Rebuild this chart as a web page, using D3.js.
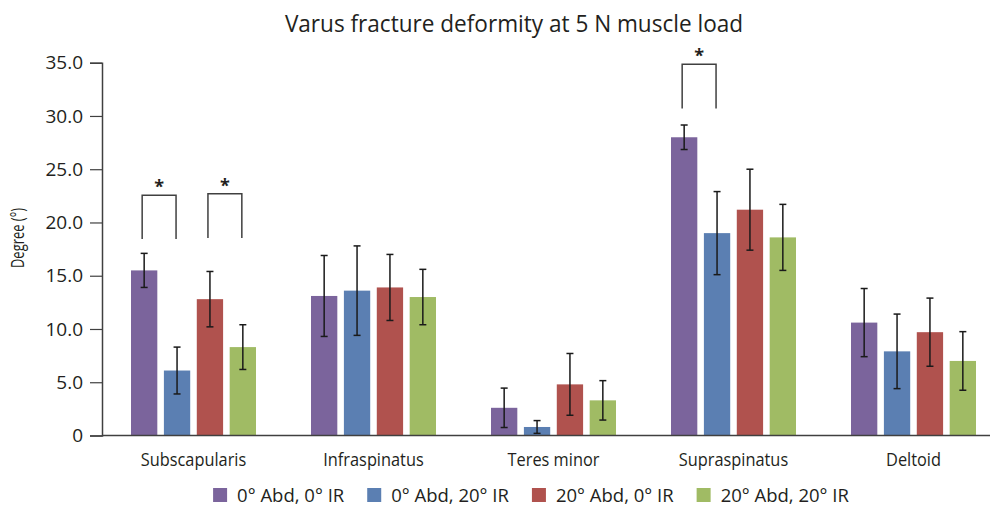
<!DOCTYPE html>
<html><head><meta charset="utf-8">
<script src="https://cdn.jsdelivr.net/npm/d3@7"></script>
<style>body{margin:0;background:#fff}svg{display:block}text{font-family:"Open Sans","Noto Sans",sans-serif;fill:#231f20}</style>
</head><body><svg id="c" width="990" height="508"></svg>
<script>
const categories = ["Subscapularis","Infraspinatus","Teres minor","Supraspinatus","Deltoid"];
const seriesNames = ["0° Abd, 0° IR","0° Abd, 20° IR","20° Abd, 0° IR","20° Abd, 20° IR"];
const seriesColors = ["#7B649C","#5B7FB2","#B0524E","#A0BB64"];
const means = [
  [15.5, 13.1, 2.6, 28.0, 10.6],
  [6.1, 13.6, 0.8, 19.0, 7.9],
  [12.8, 13.9, 4.8, 21.2, 9.7],
  [8.3, 13.0, 3.3, 18.6, 7.0]
];
const errors = [
  [1.6, 3.8, 1.85, 1.15, 3.2],
  [2.2, 4.2, 0.6, 3.9, 3.5],
  [2.6, 3.1, 2.9, 3.8, 3.2],
  [2.1, 2.6, 1.85, 3.1, 2.75]
];
const yTicks = [0,5,10,15,20,25,30,35];
// significance brackets: category, series a, series b, top value, leg bottom value
const brackets = [
  {cat:"Subscapularis", a:0, b:1, top:22.55, bottom:18.45},
  {cat:"Subscapularis", a:2, b:3, top:22.7, bottom:18.55},
  {cat:"Supraspinatus", a:0, b:1, top:34.85, bottom:30.7}
];

const svg = d3.select("#c");
const y = d3.scaleLinear().domain([0,35]).range([435.5,62.7]);
const x0 = d3.scaleBand().domain(categories).range([103.5,1003.5]).paddingInner(0.3056).paddingOuter(0.1528);
const x1 = d3.scaleBand().domain(d3.range(4)).range([0,x0.bandwidth()]).paddingInner(0.2).paddingOuter(0);

function condense(sel, f){
  sel.each(function(){
    const w = this.getComputedTextLength();
    d3.select(this).attr("textLength", w*f).attr("lengthAdjust","spacingAndGlyphs");
  });
}

// title
svg.append("text").attr("x",514).attr("y",32).attr("text-anchor","middle")
  .style("font-size","24px").text("Varus fracture deformity at 5 N muscle load")
  .call(condense, 0.94);

// y axis
const yAxis = d3.axisLeft(y).tickValues(yTicks).tickSize(12).tickPadding(7)
  .tickFormat(d => d===0 ? "0" : d3.format(".1f")(d));
const gy = svg.append("g").attr("transform","translate(102,0)").call(yAxis);
gy.select(".domain").attr("stroke","#404040").attr("stroke-width",1.5);
gy.selectAll(".tick line").attr("stroke","#404040").attr("stroke-width",1.2);
gy.selectAll(".tick text").style("font-size","19px").attr("fill","#231f20")
  .style("font-family",'"Open Sans","Noto Sans",sans-serif');

svg.append("text").attr("transform","translate(24,238) rotate(-90)").attr("text-anchor","middle")
  .style("font-size","17.5px").text("Degree (°)").call(condense, 0.74);

// bars
const flat = [];
categories.forEach((c,ci)=>seriesNames.forEach((s,si)=>flat.push({c,si,v:means[si][ci],e:errors[si][ci]})));
svg.append("g").selectAll("rect").data(flat).join("rect")
  .attr("x",d=>x0(d.c)+x1(d.si)).attr("width",x1.bandwidth())
  .attr("y",d=>y(d.v)).attr("height",d=>y(0)-y(d.v))
  .attr("fill",d=>seriesColors[d.si]);

// x axis line
svg.append("line").attr("x1",102).attr("x2",990).attr("y1",y(0)).attr("y2",y(0))
  .attr("stroke","#404040").attr("stroke-width",1.5);
svg.append("g").selectAll("text").data(categories).join("text")
  .attr("x",d=>x0(d)+x0.bandwidth()/2).attr("y",466).attr("text-anchor","middle")
  .style("font-size","19px").text(d=>d).call(condense, 0.86);

// error bars
const eg = svg.append("g").attr("stroke","#1a1a1a").attr("stroke-width",1.5);
flat.forEach(d=>{
  const cx = x0(d.c)+x1(d.si)+x1.bandwidth()/2;
  const t = y(d.v+d.e), b = y(Math.max(0,d.v-d.e));
  eg.append("line").attr("x1",cx).attr("x2",cx).attr("y1",t).attr("y2",b);
  eg.append("line").attr("x1",cx-3.5).attr("x2",cx+3.5).attr("y1",t).attr("y2",t);
  eg.append("line").attr("x1",cx-3.5).attr("x2",cx+3.5).attr("y1",b).attr("y2",b);
});

// brackets
brackets.forEach(br=>{
  const xa = x0(br.cat)+x1(br.a)+x1.bandwidth()/2 - 2;
  const xb = x0(br.cat)+x1(br.b)+x1.bandwidth()/2 - 1;
  svg.append("path").attr("d",`M${xa},${y(br.bottom)}V${y(br.top)}H${xb}V${y(br.bottom)}`)
    .attr("fill","none").attr("stroke","#404040").attr("stroke-width",1.5);
  svg.append("text").attr("x",(xa+xb)/2).attr("y",y(br.top)-2).attr("text-anchor","middle")
    .style("font-size","18px").style("font-weight","bold").text("*");
});

// legend
const lg = svg.append("g");
const items = seriesNames.map((s,i)=>{
  const g = lg.append("g");
  g.append("rect").attr("x",0).attr("y",-14).attr("width",14).attr("height",14).attr("fill",seriesColors[i]);
  const t = g.append("text").attr("x",24).attr("y",0).style("font-size","18.5px").text(s);
  return {g, w: 24 + t.node().getComputedTextLength()};
});
const gap = 23;
const total = d3.sum(items, d=>d.w) + gap*(items.length-1);
let cx = 531 - total/2;
items.forEach(it=>{ it.g.attr("transform",`translate(${cx},502)`); cx += it.w + gap; });
</script></body></html>
